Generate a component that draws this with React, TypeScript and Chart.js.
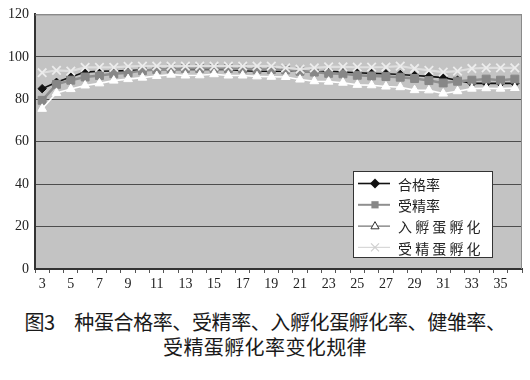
import React, { useEffect, useRef } from "react";
import { Chart, registerables } from "chart.js";

Chart.register(...registerables);

// ---- data ----
const categories = [
  "3", "4", "5", "6", "7", "8", "9", "10", "11", "12", "13", "14", "15", "16", "17", "18", "19",
  "20", "21", "22", "23", "24", "25", "26", "27", "28", "29", "30", "31", "32", "33", "34", "35", "36",
];
const qualifiedRate = [
  85, 88, 90.5, 92.8, 93.2, 93.3, 93.5, 93.8, 94, 94, 94, 94, 94, 94, 93.5, 93.2, 93.2,
  93.2, 93.2, 92.8, 93.2, 92.8, 92.5, 92.2, 92, 91.7, 91.2, 90.8, 90.2, 89, 87.5, 87.5, 87.5, 87.5,
];
const fertilityRate = [
  79.5, 87, 89, 90.5, 91.2, 92, 92.5, 93.5, 94, 94.3, 94.5, 94.5, 94.5, 94.5, 94.3, 94, 94,
  93.8, 93.2, 92.8, 92.2, 92, 91.3, 91, 90.7, 90.4, 89.8, 88.8, 87.7, 88.5, 89, 89.5, 89, 89.5,
];
const setEggHatchRate = [
  75.5, 83, 84.8, 86.5, 87.5, 88.8, 89.5, 90.2, 91, 91.6, 91.2, 91.3, 91.8, 91.2, 91.2, 90.8, 90.6,
  90.5, 89.3, 88.5, 88.3, 87.8, 86.8, 86.6, 86, 85.7, 84.3, 84.2, 82.7, 83.8, 85, 85.2, 85, 85.3,
];
const fertileEggHatchRate = [
  92.5, 93.6, 93.3, 95, 95, 95, 95.5, 95.6, 95.6, 95.6, 95.6, 95.6, 95.6, 95.6, 95.6, 95.6, 95.6,
  94.8, 94.2, 94.8, 95.3, 95.3, 95.1, 95.1, 95.2, 95.6, 94.5, 93.6, 92.8, 93.3, 94.5, 94.8, 94.8, 94.8,
];
const seriesNames = ["合格率", "受精率", "入孵蛋孵化", "受精蛋孵化"];
const legendLabels = ["合格率", "受精率", "入 孵 蛋 孵 化", "受 精 蛋 孵 化"];
const yMin = 0;
const yMax = 120;
const yStep = 20;
const captionLines = [
  "图3\u3000种蛋合格率、受精率、入孵化蛋孵化率、健雏率、",
  "受精蛋孵化率变化规律",
];

// ---- styles ----
const seriesStyles = [
  { line: "#111111", fill: "#111111", border: "#111111", point: "rectRot", radius: 4.2, lineWidth: 1.6, order: 4 },
  { line: "#8f8f8f", fill: "#878787", border: "#878787", point: "rect", radius: 5.6, lineWidth: 2.5, order: 3 },
  { line: "#ffffff", fill: "#ffffff", border: "#ffffff", point: "triangle", radius: 5, lineWidth: 1.6, order: 2 },
  { line: "#dedede", fill: "#e8e8e8", border: "#ececec", point: "crossRot", radius: 6, lineWidth: 2.2, order: 1 },
];
const legendStyles = [
  { line: "#111111", fill: "#111111", stroke: "#111111", point: "diamond", size: 5, lineWidth: 1.6 },
  { line: "#8f8f8f", fill: "#888888", stroke: "#888888", point: "square", size: 3.6, lineWidth: 2 },
  { line: "#555555", fill: "#ffffff", stroke: "#333333", point: "triangle", size: 4.5, lineWidth: 1 },
  { line: "#d8d8d8", fill: "#d8d8d8", stroke: "#cfcfcf", point: "x", size: 4, lineWidth: 1.2 },
];

function drawLegendMarker(ctx: CanvasRenderingContext2D, kind: string, x: number, y: number, s: number, fill: string, stroke: string) {
  ctx.beginPath();
  if (kind === "diamond") {
    ctx.moveTo(x, y - s);
    ctx.lineTo(x + s, y);
    ctx.lineTo(x, y + s);
    ctx.lineTo(x - s, y);
    ctx.closePath();
    ctx.fillStyle = fill;
    ctx.fill();
  } else if (kind === "square") {
    ctx.rect(x - s, y - s, 2 * s, 2 * s);
    ctx.fillStyle = fill;
    ctx.fill();
  } else if (kind === "triangle") {
    ctx.moveTo(x, y - s);
    ctx.lineTo(x + s * 0.9, y + s * 0.6);
    ctx.lineTo(x - s * 0.9, y + s * 0.6);
    ctx.closePath();
    ctx.fillStyle = fill;
    ctx.fill();
    ctx.strokeStyle = stroke;
    ctx.lineWidth = 1;
    ctx.stroke();
  } else if (kind === "x") {
    ctx.moveTo(x - s, y - s);
    ctx.lineTo(x + s, y + s);
    ctx.moveTo(x + s, y - s);
    ctx.lineTo(x - s, y + s);
    ctx.strokeStyle = stroke;
    ctx.lineWidth = 1.2;
    ctx.stroke();
  }
}

const plotBackground = {
  id: "plotBackground",
  beforeDraw(chart: any) {
    const { ctx, chartArea } = chart;
    ctx.save();
    ctx.fillStyle = "#c3c3c3";
    ctx.fillRect(chartArea.left, chartArea.top, chartArea.right - chartArea.left, chartArea.bottom - chartArea.top);
    ctx.restore();
  },
  beforeDatasetsDraw(chart: any) {
    const { ctx, chartArea } = chart;
    ctx.save();
    ctx.strokeStyle = "#8a8a8a";
    ctx.lineWidth = 1;
    ctx.beginPath();
    ctx.moveTo(chartArea.left, chartArea.top + 0.5);
    ctx.lineTo(chartArea.right - 0.5, chartArea.top + 0.5);
    ctx.lineTo(chartArea.right - 0.5, chartArea.bottom);
    ctx.stroke();
    ctx.restore();
  },
};

const insideLegend = {
  id: "insideLegend",
  afterDraw(chart: any) {
    const { ctx, chartArea } = chart;
    const w = 140;
    const h = 87;
    const x0 = Math.round(chartArea.right - 29 - w);
    const y0 = Math.round(chartArea.bottom - 11 - h);
    ctx.save();
    ctx.fillStyle = "#ffffff";
    ctx.fillRect(x0, y0, w, h);
    ctx.strokeStyle = "#333333";
    ctx.lineWidth = 1;
    ctx.strokeRect(x0 + 0.5, y0 + 0.5, w - 1, h - 1);
    ctx.font = "14px 'Noto Sans CJK SC'";
    ctx.textBaseline = "middle";
    ctx.textAlign = "left";
    legendLabels.forEach((label, i) => {
      const st = legendStyles[i];
      const cy = y0 + 12.5 + i * 21.3;
      ctx.strokeStyle = st.line;
      ctx.lineWidth = st.lineWidth;
      ctx.beginPath();
      ctx.moveTo(x0 + 5, cy);
      ctx.lineTo(x0 + 37, cy);
      ctx.stroke();
      drawLegendMarker(ctx, st.point, x0 + 22, cy, st.size, st.fill, st.stroke);
      ctx.fillStyle = "#222222";
      ctx.fillText(label, x0 + 45, cy + 1);
    });
    ctx.restore();
  },
};

export default function App() {
  const canvasRef = useRef<HTMLCanvasElement | null>(null);

  useEffect(() => {
    if (!canvasRef.current) return;
    const seriesValues = [qualifiedRate, fertilityRate, setEggHatchRate, fertileEggHatchRate];
    const tickFont = { family: "'Liberation Serif', serif", size: 14 };
    const chart = new Chart(canvasRef.current, {
      type: "line",
      data: {
        labels: categories,
        datasets: seriesValues.map((vals, i) => {
          const st = seriesStyles[i];
          return {
            label: seriesNames[i],
            data: vals,
            borderColor: st.line,
            backgroundColor: st.fill,
            borderWidth: st.lineWidth,
            pointStyle: st.point as any,
            pointRadius: st.radius,
            pointBackgroundColor: st.fill,
            pointBorderColor: st.border,
            pointBorderWidth: st.point === "crossRot" ? 1.8 : 1,
            tension: 0,
            fill: false,
            order: st.order,
          };
        }),
      },
      options: {
        animation: false,
        responsive: false,
        maintainAspectRatio: false,
        events: [],
        layout: { padding: { left: 0, right: 8, top: 11, bottom: 4 } },
        plugins: {
          legend: { display: false },
          tooltip: { enabled: false },
          title: { display: false },
        },
        scales: {
          x: {
            type: "category",
            offset: true,
            grid: {
              display: true,
              drawOnChartArea: false,
              offset: true,
              tickLength: 4,
              color: "#555555",
            },
            border: { color: "#333333", width: 2 },
            ticks: {
              autoSkip: false,
              maxRotation: 0,
              minRotation: 0,
              padding: 3,
              color: "#222222",
              font: tickFont,
              callback: (_v: any, i: number) => (i % 2 === 0 ? categories[i] : ""),
            },
            afterFit: (s: any) => {
              s.height = 27;
            },
          },
          y: {
            min: yMin,
            max: yMax,
            ticks: { stepSize: yStep, padding: 6, color: "#222222", font: tickFont },
            grid: {
              drawTicks: false,
              color: (c: any) => (c.tick && c.tick.value === yMax ? "#8a8a8a" : "#4d4d4d"),
              lineWidth: 1,
            },
            border: { color: "#333333", width: 2 },
            afterFit: (s: any) => {
              s.width = 35;
            },
          },
        },
      },
      plugins: [plotBackground, insideLegend],
    } as any);
    return () => chart.destroy();
  }, []);

  return (
    <div style={{ position: "absolute", left: 0, top: 0, width: 530, height: 380, background: "#ffffff", overflow: "hidden" }}>
      <canvas ref={canvasRef} width={530} height={300} style={{ position: "absolute", left: 0, top: 0, width: 530, height: 300 }} />
      {captionLines.map((line, i) => (
        <div
          key={i}
          style={{
            position: "absolute",
            left: 0,
            top: 309 + i * 25,
            width: 530,
            textAlign: "center",
            fontFamily: "'Noto Sans CJK SC', sans-serif",
            fontSize: 20,
            lineHeight: "26px",
            fontWeight: 400,
            letterSpacing: i === 0 ? "-0.4px" : "0.4px",
            color: "#1a1a1a",
            whiteSpace: "nowrap",
          }}
        >
          {line}
        </div>
      ))}
    </div>
  );
}
